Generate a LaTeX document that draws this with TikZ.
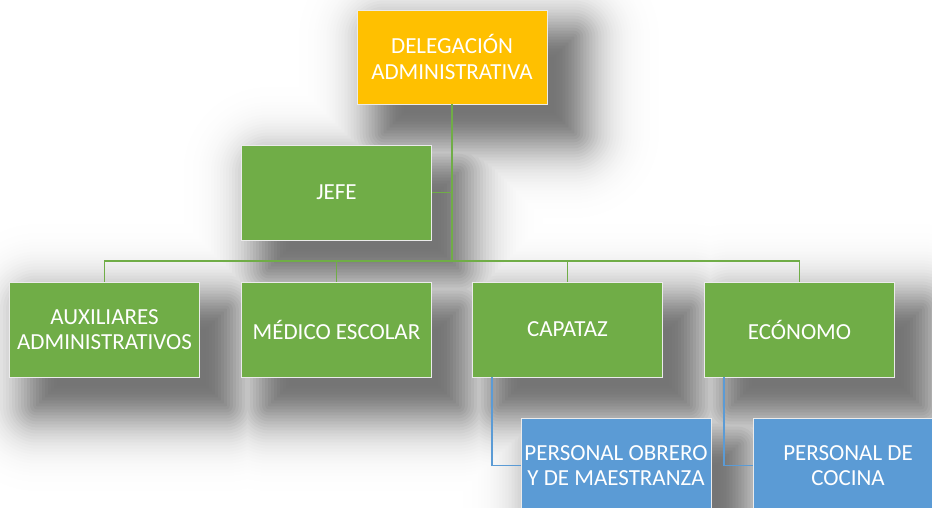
\documentclass[tikz,border=0pt]{standalone}
\usepackage{fontspec}
\setmainfont{Carlito}
\usetikzlibrary{backgrounds}
\definecolor{delorange}{HTML}{FFC000}
\definecolor{orggreen}{HTML}{70AD47}
\definecolor{orgblue}{HTML}{5B9BD5}
\tikzset{
  box/.style={rectangle, draw=white!92!black, line width=0.9pt, minimum width=190pt, minimum height=95pt,
    inner sep=0pt, align=center, text=white, font=\fontsize{23}{25.5}\selectfont},
  topbox/.style={box, fill=delorange, minimum height=94pt},
  greenbox/.style={box, fill=orggreen},
  bluebox/.style={box, fill=orgblue},
  gline/.style={draw=orggreen, line width=1.4pt},
  bline/.style={draw=orgblue, line width=1.4pt}
}
\begin{document}
\begin{tikzpicture}[x=1pt,y=-1pt]
\useasboundingbox (0,0) rectangle (932,508);
\clip (0,0) rectangle (932,508);
\node[topbox] (del) at (452,57) {DELEGACIÓN\\ADMINISTRATIVA};
\node[greenbox] (jefe) at (336.5,192.5) {JEFE};
\node[greenbox] (aux) at (104.5,329.5) {AUXILIARES\\ADMINISTRATIVOS};
\node[greenbox] (med) at (336.5,329.5) {MÉDICO ESCOLAR};
\node[greenbox] (cap) at (567.5,329.5) {CAPATAZ};
\node[greenbox] (eco) at (799.5,329.5) {ECÓNOMO};
\node[bluebox] (obr) at (616,465.5) {PERSONAL OBRERO\\Y DE MAESTRANZA};
\node[bluebox] (coc) at (848,465.5) {PERSONAL DE\\COCINA};
\begin{scope}[on background layer]
  \fill[white] (0,0) rectangle (932,508);
  \foreach \r in {105,102,...,0}{
    \pgfmathsetmacro{\dk}{54*exp(-(\r/46)^2)}
    \pgfmathsetmacro{\rc}{max(\r-20,0.5)}
    \foreach \n in {del,jefe,aux,med,cap,eco,obr,coc}{
      \fill[black!\dk!white, rounded corners=\rc pt]
        ([shift={(48-\r,48-\r)}]\n.north west) rectangle ([shift={(6+\r,8+\r)}]\n.south east);
    }
  }
\end{scope}
\coordinate (bus) at (452,261);
\draw[gline] (del.south) |- (jefe.east);
\draw[gline] (del.south) -- (bus);
\draw[gline] (bus) -| (aux.north);
\draw[gline] (bus) -| (med.north);
\draw[gline] (bus) -| (cap.north);
\draw[gline] (bus) -| (eco.north);
\draw[bline] ([xshift=20pt]cap.south west) |- (obr.west);
\draw[bline] ([xshift=20pt]eco.south west) |- (coc.west);
\end{tikzpicture}
\end{document}
